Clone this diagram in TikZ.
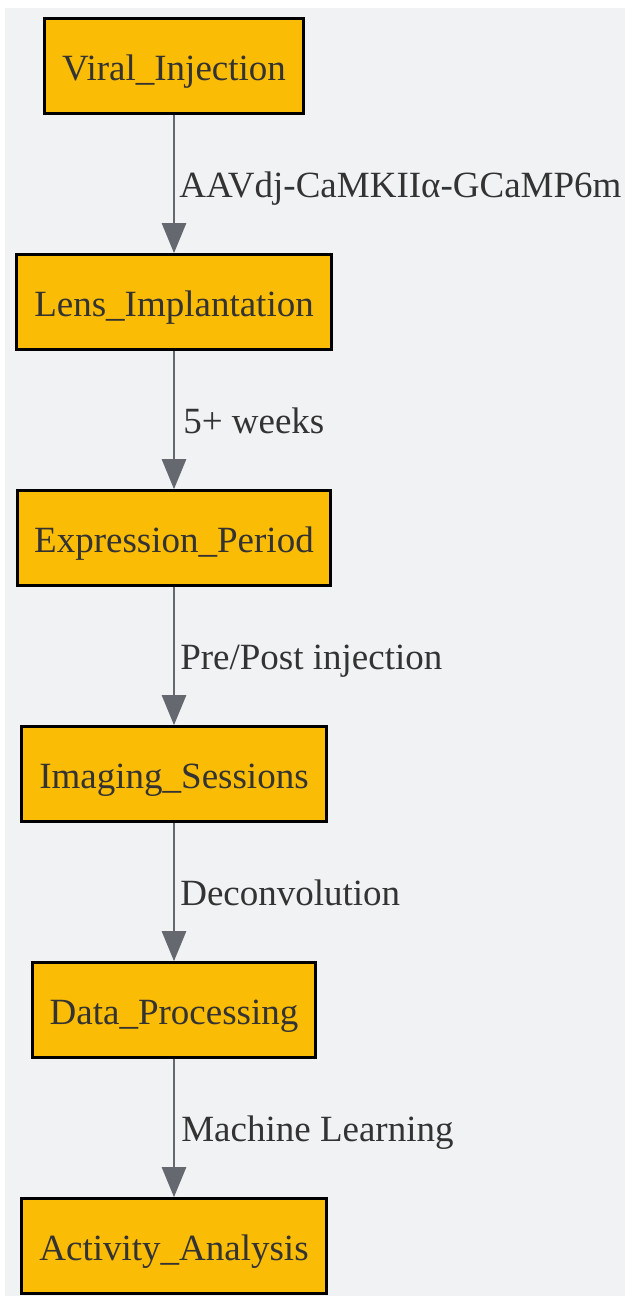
\documentclass[tikz,border=0pt]{standalone}
\usepackage{fontspec}
\setmainfont{Liberation Serif}
\usetikzlibrary{arrows.meta}
\definecolor{bgc}{HTML}{F1F2F4}
\definecolor{boxc}{HTML}{FBBC05}
\definecolor{txtc}{HTML}{333333}
\definecolor{linec}{HTML}{666870}
\begin{document}
\begin{tikzpicture}[x=1pt,y=1pt,
  stepbox/.style={draw=black, line width=2.6pt, fill=boxc, text=txtc,
    minimum height=95pt, inner sep=0pt, text height=36pt, text depth=6pt,
    font=\fontsize{37}{44}\selectfont},
  flow/.style={draw=linec, line width=2.6pt, -{Triangle[length=30pt,width=24pt]}},
  lab/.style={text=txtc, font=\fontsize{37}{44}\selectfont, anchor=west, inner sep=0pt,
    text height=33pt, text depth=6pt}]
\useasboundingbox (0,0) rectangle (625,1301);
\fill[bgc] (5,5) rectangle (625,1293);
\node[stepbox, minimum width=259pt] (a) at (174,1235) {Viral\_Injection};
\node[stepbox, minimum width=315pt] (b) at (174,999) {Lens\_Implantation};
\node[stepbox, minimum width=313pt] (c) at (174,763) {Expression\_Period};
\node[stepbox, minimum width=305pt] (d) at (174,527) {Imaging\_Sessions};
\node[stepbox, minimum width=283pt] (e) at (174,291) {Data\_Processing};
\node[stepbox, minimum width=305pt] (f) at (174,55) {Activity\_Analysis};
\draw[flow] (a) -- (b) node[lab, pos=0.5, xshift=4pt] {AAVdj-CaMKII\char"03B1-GCaMP6m};
\draw[flow] (b) -- (c) node[lab, pos=0.5, xshift=8pt] {5+ weeks};
\draw[flow] (c) -- (d) node[lab, pos=0.5, xshift=5pt] {Pre/Post injection};
\draw[flow] (d) -- (e) node[lab, pos=0.5, xshift=5pt] {Deconvolution};
\draw[flow] (e) -- (f) node[lab, pos=0.5, xshift=6pt] {Machine Learning};
\end{tikzpicture}
\end{document}
